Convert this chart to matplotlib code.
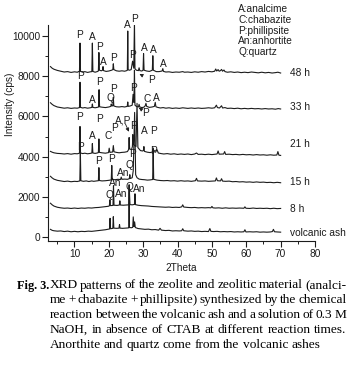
import numpy as np
import matplotlib
matplotlib.use("Agg")
import matplotlib.pyplot as plt
from matplotlib.ticker import MultipleLocator

plt.rcParams['font.family'] = ['Liberation Sans', 'DejaVu Sans']

# XRD patterns (2Theta, intensity in cps)
h48 = [(3.0, 8480), (3.5, 8400), (4.0, 8350), (5.0, 8290), (6.0, 8250), (7.0, 8210), (8.0, 8230),
       (9.0, 8190), (10.0, 8220), (10.8, 8200), (11.45, 8250), (11.6, 9650), (11.75, 8240), (12.4, 8200),
       (13.0, 8230), (13.8, 8190), (14.6, 8220), (15.05, 8230), (15.2, 9650), (15.35, 8240), (16.0, 8200),
       (16.6, 8230), (16.95, 8260), (17.1, 9180), (17.25, 8300), (17.8, 8270), (18.15, 8300), (18.3, 8480),
       (18.45, 8280), (19.2, 8240), (20.0, 8260), (20.8, 8300), (21.15, 8330), (21.3, 8620), (21.45, 8330),
       (22.2, 8270), (23.0, 8250), (23.8, 8270), (24.6, 8250), (25.2, 8280), (25.38, 8300), (25.5, 10250),
       (25.62, 8320), (26.0, 8300), (26.5, 8330), (26.9, 8750), (27.25, 8400), (27.45, 10700), (27.6, 8380),
       (28.0, 8300), (28.6, 8280), (28.8, 8420), (29.0, 8280), (29.6, 8260), (29.95, 8300), (30.1, 9130),
       (30.25, 8300), (31.0, 8260), (31.8, 8240), (32.65, 8300), (32.8, 9020), (32.95, 8300), (33.8, 8230),
       (34.6, 8230), (35.5, 8260), (35.7, 8380), (35.9, 8240), (36.6, 8210), (37.5, 8220), (38.5, 8190),
       (39.5, 8210), (40.5, 8200), (41.5, 8230), (42.0, 8200), (43.0, 8210), (44.0, 8190), (45.0, 8220),
       (46.0, 8200), (47.0, 8230), (48.0, 8210), (49.0, 8240), (50.0, 8220), (50.8, 8250), (51.1, 8360),
       (51.4, 8260), (51.8, 8330), (52.1, 8250), (52.5, 8280), (52.8, 8340), (53.1, 8250), (53.5, 8310),
       (53.8, 8230), (54.5, 8200), (55.5, 8220), (56.5, 8190), (57.5, 8210), (58.5, 8180), (59.5, 8200),
       (60.5, 8180), (61.5, 8210), (62.5, 8190), (63.5, 8170), (64.5, 8200), (65.5, 8170), (66.5, 8190),
       (67.5, 8160), (68.5, 8180), (69.2, 8200), (70.0, 8160)]

h33 = [(3.0, 6680), (3.5, 6600), (4.0, 6540), (5.0, 6470), (6.0, 6440), (7.0, 6410), (8.0, 6430),
       (9.0, 6400), (10.0, 6420), (10.8, 6410), (11.45, 6440), (11.6, 7700), (11.75, 6450), (12.4, 6420),
       (13.0, 6440), (13.8, 6410), (14.6, 6430), (15.05, 6450), (15.2, 6620), (15.35, 6450), (16.0, 6430),
       (16.6, 6450), (17.0, 6470), (17.15, 7330), (17.3, 6480), (18.0, 6460), (19.0, 6440), (20.0, 6470),
       (20.55, 6500), (20.7, 6620), (20.85, 6520), (21.15, 6530), (21.3, 6950), (21.45, 6520), (22.2, 6480),
       (23.0, 6470), (23.8, 6490), (24.6, 6470), (25.35, 6500), (25.5, 6720), (25.65, 6500), (26.2, 6520),
       (26.8, 6560), (27.05, 7100), (27.28, 6700), (27.45, 8300), (27.6, 6560), (28.0, 6500), (28.6, 6470),
       (28.8, 6600), (29.0, 6470), (29.6, 6440), (30.2, 6460), (30.55, 6520), (30.8, 6650), (31.0, 6500),
       (31.8, 6450), (32.6, 6470), (33.25, 6500), (33.5, 6700), (33.7, 6480), (34.2, 6450), (35.0, 6420),
       (35.8, 6440), (36.6, 6410), (37.5, 6430), (38.5, 6400), (39.5, 6420), (40.5, 6400), (41.5, 6430),
       (43.0, 6400), (44.0, 6420), (45.0, 6400), (46.0, 6420), (47.0, 6400), (48.0, 6410), (49.0, 6430),
       (50.0, 6410), (50.8, 6430), (51.3, 6560), (51.6, 6440), (52.2, 6420), (52.8, 6530), (53.1, 6420),
       (53.8, 6440), (54.5, 6400), (55.5, 6410), (56.5, 6390), (57.5, 6410), (58.5, 6380), (59.5, 6400),
       (60.5, 6380), (61.5, 6400), (62.5, 6380), (63.5, 6390), (64.5, 6370), (65.5, 6390), (66.5, 6370),
       (67.5, 6380), (68.5, 6360), (69.3, 6390), (70.0, 6370)]

h21 = [(3.0, 4260), (3.5, 4220), (4.0, 4190), (5.0, 4160), (6.0, 4150), (7.0, 4130), (8.0, 4150),
       (9.0, 4120), (10.0, 4150), (10.8, 4140), (11.45, 4170), (11.6, 5500), (11.75, 4180), (12.4, 4150),
       (13.0, 4170), (13.8, 4140), (14.6, 4160), (15.05, 4180), (15.2, 4650), (15.35, 4180), (16.0, 4160),
       (16.6, 4180), (16.95, 4200), (17.1, 4880), (17.25, 4210), (18.0, 4190), (19.0, 4170), (19.9, 4200),
       (20.1, 4420), (20.3, 4210), (21.1, 4230), (21.3, 4550), (21.5, 4240), (22.2, 4210), (23.0, 4190),
       (23.8, 4210), (24.6, 4220), (25.4, 4250), (25.75, 4350), (25.9, 4950), (26.05, 4380), (26.6, 4350),
       (26.85, 4500), (27.0, 5100), (27.15, 4600), (27.9, 4500), (28.2, 6650), (28.45, 4450), (29.2, 4300),
       (29.8, 4280), (30.05, 4300), (30.2, 4500), (30.35, 4260), (31.2, 4220), (32.0, 4200), (32.7, 4230),
       (32.9, 4430), (33.1, 4250), (33.6, 4220), (34.0, 4350), (34.4, 4180), (35.2, 4150), (36.0, 4130),
       (37.0, 4150), (38.0, 4120), (39.0, 4140), (40.0, 4110), (41.0, 4130), (42.0, 4110), (43.0, 4130),
       (44.0, 4100), (45.0, 4130), (45.5, 4180), (46.0, 4110), (47.0, 4120), (48.0, 4100), (49.0, 4120),
       (50.0, 4100), (51.0, 4120), (51.5, 4130), (51.8, 4280), (52.1, 4120), (53.4, 4130), (53.7, 4250),
       (54.0, 4110), (55.0, 4120), (56.0, 4100), (57.0, 4110), (58.0, 4090), (59.0, 4110), (60.0, 4090),
       (61.0, 4100), (62.0, 4080), (63.0, 4100), (64.0, 4080), (65.0, 4090), (66.0, 4070), (67.0, 4090),
       (68.0, 4070), (68.9, 4080), (69.2, 4250), (69.5, 4070), (70.0, 4060)]

h15 = [(3.0, 3020), (3.5, 2940), (4.0, 2880), (5.0, 2820), (6.0, 2790), (7.0, 2760), (8.0, 2780),
       (9.0, 2750), (10.0, 2770), (10.8, 2760), (11.55, 2790), (11.7, 4300), (11.85, 2800), (12.6, 2770),
       (13.4, 2790), (14.2, 2760), (15.0, 2790), (15.6, 2770), (16.4, 2790), (16.95, 2800), (17.1, 3450),
       (17.25, 2810), (18.0, 2790), (19.0, 2800), (20.0, 2820), (20.7, 2840), (20.85, 3560), (21.0, 2860),
       (21.8, 2850), (22.6, 2870), (23.4, 2860), (23.6, 2980), (23.8, 2870), (24.6, 2880), (25.4, 2870),
       (25.95, 2900), (26.1, 3100), (26.25, 2910), (26.8, 2950), (27.1, 3300), (27.5, 6200), (27.8, 3100),
       (28.2, 2950), (28.8, 2880), (29.6, 2860), (30.4, 2850), (31.2, 2830), (32.0, 2840), (32.75, 2860),
       (32.9, 4380), (33.05, 2870), (34.0, 2830), (35.0, 2810), (36.0, 2800), (37.0, 2810), (38.0, 2790),
       (39.0, 2800), (40.0, 2780), (41.0, 2800), (42.0, 2780), (43.0, 2790), (44.0, 2770), (45.2, 2800),
       (45.5, 2920), (45.8, 2790), (47.0, 2780), (48.0, 2790), (49.0, 2770), (50.0, 2780), (51.0, 2790),
       (51.3, 2940), (51.6, 2800), (52.5, 2790), (52.8, 2900), (53.1, 2780), (54.0, 2770), (55.0, 2780),
       (56.0, 2750), (57.0, 2760), (58.0, 2740), (59.0, 2750), (60.0, 2730), (61.0, 2740), (62.0, 2720),
       (63.0, 2740), (64.0, 2720), (65.0, 2730), (66.0, 2710), (67.0, 2720), (68.0, 2700), (69.0, 2720),
       (70.0, 2700)]

h8 = [(3.0, 1680), (3.5, 1600), (4.0, 1540), (5.0, 1480), (6.0, 1450), (7.0, 1430), (8.0, 1440),
      (9.0, 1420), (10.0, 1440), (11.0, 1420), (12.0, 1440), (13.0, 1430), (14.0, 1450), (15.0, 1440),
      (16.0, 1460), (17.0, 1470), (18.0, 1490), (19.0, 1510), (19.9, 1530), (20.15, 1550), (20.3, 1850),
      (20.45, 1560), (21.2, 1570), (21.35, 2550), (21.5, 1580), (22.4, 1570), (23.05, 1590), (23.2, 1800),
      (23.35, 1590), (24.2, 1580), (25.0, 1590), (25.85, 1600), (26.0, 2200), (26.15, 1610), (26.8, 1600),
      (27.45, 1620), (27.6, 2150), (27.75, 1610), (28.5, 1580), (29.5, 1560), (30.5, 1550), (31.5, 1540),
      (32.5, 1520), (33.5, 1510), (34.5, 1500), (35.5, 1490), (36.5, 1480), (37.5, 1490), (38.5, 1470),
      (39.5, 1480), (40.5, 1470), (41.2, 1500), (41.5, 1600), (41.8, 1490), (43.0, 1470), (44.0, 1460),
      (45.0, 1470), (46.0, 1450), (47.0, 1460), (48.0, 1450), (49.0, 1460), (49.7, 1450), (50.0, 1520),
      (50.3, 1450), (51.0, 1440), (52.0, 1450), (53.0, 1430), (54.0, 1450), (55.0, 1430), (56.0, 1440),
      (57.0, 1430), (58.0, 1440), (59.3, 1430), (59.6, 1500), (59.9, 1430), (61.0, 1420), (62.0, 1440),
      (63.0, 1420), (64.0, 1430), (65.0, 1420), (66.0, 1430), (67.0, 1410), (68.0, 1430), (69.0, 1410),
      (70.0, 1420)]

ash = [(3.0, 380), (3.5, 330), (4.0, 310), (5.0, 290), (6.0, 300), (7.0, 270), (8.0, 290), (9.0, 260),
       (10.0, 280), (11.0, 260), (12.0, 280), (13.0, 270), (14.0, 290), (15.0, 280), (16.0, 300),
       (17.0, 320), (18.0, 340), (19.0, 360), (19.9, 390), (20.2, 400), (20.35, 930), (20.5, 410),
       (21.15, 430), (21.3, 1010), (21.45, 440), (22.3, 430), (22.95, 440), (23.1, 620), (23.25, 440),
       (24.0, 430), (24.8, 440), (25.6, 450), (25.82, 460), (25.9, 2600), (25.98, 470), (26.6, 460),
       (26.95, 480), (27.1, 1000), (27.3, 520), (27.5, 750), (27.7, 470), (28.5, 420), (29.5, 400),
       (30.5, 380), (31.5, 390), (32.5, 360), (33.5, 370), (34.5, 340), (34.9, 430), (35.3, 340),
       (36.5, 320), (37.5, 330), (38.5, 300), (39.5, 310), (40.5, 300), (41.2, 310), (41.5, 410),
       (41.8, 310), (43.0, 290), (44.0, 300), (45.0, 280), (46.0, 290), (47.0, 270), (48.0, 280),
       (49.0, 270), (49.4, 420), (49.7, 280), (50.5, 270), (51.5, 280), (52.5, 260), (53.5, 270),
       (54.5, 260), (55.5, 270), (56.5, 250), (57.5, 260), (58.5, 250), (59.3, 260), (59.6, 360),
       (59.9, 250), (61.0, 260), (62.0, 250), (63.0, 260), (64.0, 240), (65.0, 250), (66.0, 240),
       (67.0, 250), (67.6, 270), (67.9, 380), (68.2, 260), (69.0, 250), (70.0, 240)]

traces = [h48, h33, h21, h15, h8, ash]
trace_names = ["48 h", "33 h", "21 h", "15 h", "8 h", "volcanic ash"]
name_y = [8150, 6450, 4630, 2720, 1390, 180]

# phase labels (text, 2Theta, cps)
peak_labels = [
    ("P", 11.6, 10050), ("A", 15.3, 9935), ("P", 17.4, 9467), ("A", 18.4, 8720), ("P", 21.3, 8890),
    ("A", 25.5, 10547), ("P", 27.6, 10831), ("P", 26.9, 9055), ("A", 30.2, 9403), ("A", 32.9, 9303),
    ("A", 35.8, 8607),
    ("P", 11.7, 8025), ("A", 15.2, 6816), ("P", 17.4, 7696), ("Q", 20.5, 6900), ("P", 21.4, 7348),
    ("P", 27.1, 7413), ("C", 31.0, 6866), ("A", 33.8, 6915),
    ("P", 11.6, 5970), ("P", 17.3, 5885), ("A", 15.2, 5040), ("C", 19.8, 5040), ("P", 21.6, 5400),
    ("A,P", 24.2, 5821), ("P", 27.2, 5522), ("A", 30.3, 5274), ("P", 33.1, 5274),
    ("P", 11.8, 4492), ("P", 17.1, 3796), ("P", 20.8, 3866), ("An", 24.2, 3169), ("Q", 26.1, 3582),
    ("P", 27.0, 4129), ("P", 32.9, 4293),
    ("Q", 20.1, 2090), ("An", 21.8, 2671), ("An", 23.7, 2124), ("Q", 26.1, 2502), ("An", 28.8, 2388),
]
# labels with arrows: (text, text pos, arrow tip)
arrow_labels = [("P", (32.4, 7811), (28.9, 8110)),
                ("P", (30.8, 6184), (28.75, 6433))]

legend_lines = ["A:analcime", "C:chabazite", "P:phillipsite", "An:anhortite", "Q:quartz"]

caption = ["XRD patterns of the zeolite and zeolitic material (analci-",
           "me + chabazite + phillipsite) synthesized by the chemical",
           "reaction between the volcanic ash and a solution of 0.3 M",
           "NaOH, in absence of CTAB at different reaction times.",
           "Anorthite and quartz come from the volcanic ashes"]

W, H = 355, 365
fig = plt.figure(figsize=(W / 100, H / 100), dpi=100)
ax = fig.add_axes([47.7 / W, 1 - 241 / H, (315 - 47.7) / W, (241 - 25) / H])

ink = '#1c1c1c'
for tr in traces:
    xy = np.array(tr)
    ax.plot(xy[:, 0], xy[:, 1], color=ink, lw=0.8)

fs = 7.3
for (txt, x, y) in peak_labels:
    ax.text(x, y, txt, fontsize=fs, ha='center', va='center', color=ink, clip_on=False)
for (txt, xyt, xy) in arrow_labels:
    ax.annotate(txt, xy=xy, xytext=xyt, fontsize=fs, ha='center', va='center', color=ink,
                arrowprops=dict(arrowstyle='-|>', lw=0.6, color=ink, mutation_scale=5,
                                shrinkA=3, shrinkB=0))
ax.annotate("", xy=(25.84, 5239), xytext=(24.83, 5622),
            arrowprops=dict(arrowstyle='-|>', lw=0.6, color=ink, mutation_scale=5, shrinkA=0, shrinkB=0))

for name, y in zip(trace_names, name_y):
    ax.text(72.8, y, name, fontsize=fs, ha='left', va='center', color=ink, clip_on=False)

ax.set_xlim(2.2, 80)
ax.set_ylim(-200, 10550)
ax.xaxis.set_major_locator(MultipleLocator(10))
ax.xaxis.set_minor_locator(MultipleLocator(5))
ax.yaxis.set_major_locator(MultipleLocator(2000))
ax.yaxis.set_minor_locator(MultipleLocator(1000))
ax.set_xticks(np.arange(10, 81, 10))
ax.set_yticks(np.arange(0, 10001, 2000))
ax.tick_params(which='major', direction='out', length=4, width=0.8, labelsize=fs, colors=ink, pad=1.5)
ax.tick_params(which='minor', direction='out', length=2.2, width=0.7, colors=ink)
for s in ['top', 'right']:
    ax.spines[s].set_visible(False)
for s in ['left', 'bottom']:
    ax.spines[s].set_linewidth(0.8)
    ax.spines[s].set_color(ink)

fig.text(181 / W, 1 - 268 / H, "2Theta", fontsize=fs, ha='center', va='center', color=ink)
fig.text(10 / W, 1 - 104 / H, "Intensity (cps)", fontsize=fs, rotation=90, ha='center', va='center', color=ink)

for i, line in enumerate(legend_lines):
    fig.text(238.3 / W, 1 - (9.3 + 10.6 * i) / H, line, fontsize=fs, ha='left', va='center', color=ink)

# caption, justified like the printed page
serif = ['Liberation Serif', 'DejaVu Serif']
cfs = 9.6
fig.text(17 / W, 1 - 288.5 / H, "Fig. 3.", fontsize=8.8, family=serif, weight='bold', va='baseline')
renderer = fig.canvas.get_renderer()
x0, x1 = 49.5, 346.5
for i, line in enumerate(caption):
    yb = 1 - (288.5 + 14.8 * i) / H
    words = line.split(" ")
    ts = [fig.text(0, yb, w, fontsize=cfs, family=serif, va='baseline') for w in words]
    widths = [t.get_window_extent(renderer).width for t in ts]
    if i < len(caption) - 1:
        gap = (x1 - x0 - sum(widths)) / (len(words) - 1)
    else:
        gap = 3.0
    x = x0
    for t, w in zip(ts, widths):
        t.set_x(x / W)
        x += w + gap

fig.savefig("out.png", dpi=100)
